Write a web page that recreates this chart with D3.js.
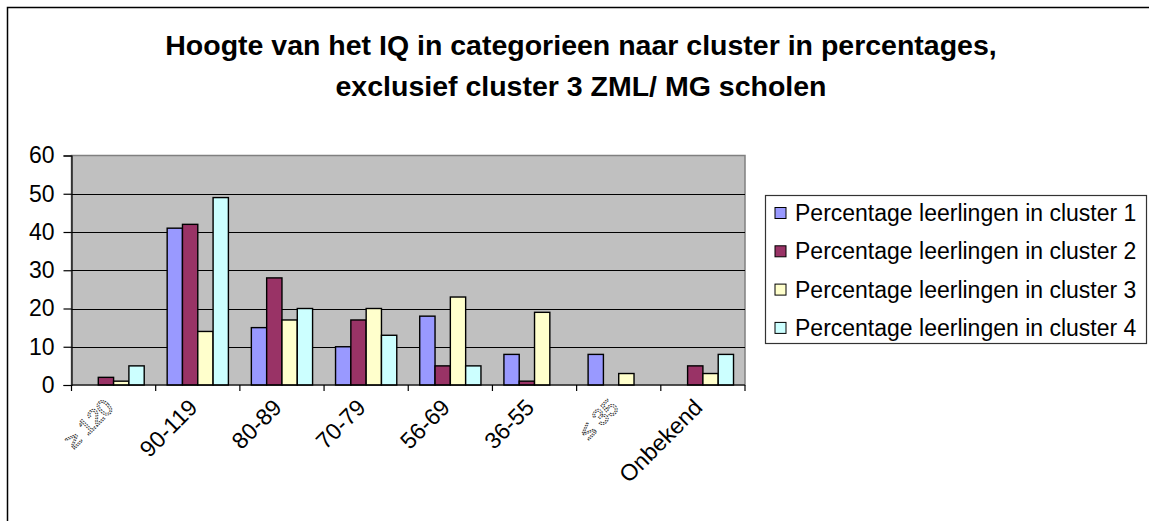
<!DOCTYPE html>
<html>
<head>
<meta charset="utf-8">
<script src="https://cdn.jsdelivr.net/npm/d3@7"></script>
<style>
  body { margin: 0; background: #fff; }
  svg { display: block; font-family: "Liberation Sans", Arial, sans-serif; }
</style>
</head>
<body>
<svg id="chart" width="1149" height="521"></svg>
<script>
// Data
var categories = ["\u2265 120", "90-119", "80-89", "70-79", "56-69", "36-55", "\u2264 35", "Onbekend"];
var seriesNames = [
  "Percentage leerlingen in cluster 1",
  "Percentage leerlingen in cluster 2",
  "Percentage leerlingen in cluster 3",
  "Percentage leerlingen in cluster 4"
];
var cluster1 = [0, 41, 15, 10, 18, 8, 8, 0];
var cluster2 = [2, 42, 28, 17, 5, 1, 0, 5];
var cluster3 = [1, 14, 17, 20, 23, 19, 3, 3];
var cluster4 = [5, 49, 20, 13, 5, 0, 0, 8];
var yTicks = [0, 10, 20, 30, 40, 50, 60];
var colors = ["#9999ff", "#993366", "#ffffcc", "#ccffff"];
var titleLines = [
  "Hoogte van het IQ in categorieen naar cluster in percentages,",
  "exclusief cluster 3 ZML/ MG scholen"
];

var seriesValues = [cluster1, cluster2, cluster3, cluster4];

// Dimensions
var plotLeft = 71.5;
var plotRight = 745;
var plotTop = 155.5;
var plotBottom = 385;

var svg = d3.select("#chart");

// outer frame (cut off at right / bottom like the original)
svg.append("rect")
  .attr("x", 7.5).attr("y", 7.5)
  .attr("width", 1200).attr("height", 600)
  .attr("fill", "none")
  .attr("stroke", "#000")
  .attr("stroke-width", 1.5);

// title
svg.append("g")
  .selectAll("text")
  .data(titleLines)
  .enter().append("text")
  .attr("x", 581)
  .attr("y", function(d, i) { return 55 + i * 41; })
  .attr("text-anchor", "middle")
  .attr("font-size", 28.5)
  .attr("font-weight", "bold")
  .text(function(d) { return d; });

var x0 = d3.scaleBand().domain(categories).range([plotLeft, plotRight]);
var x1 = d3.scaleBand().domain(d3.range(seriesNames.length))
  .range([0, x0.bandwidth()])
  .paddingInner(0)
  .paddingOuter(0.75);
var y = d3.scaleLinear().domain([0, 60]).range([plotBottom, plotTop]);

// plot area
svg.append("rect")
  .attr("x", plotLeft).attr("y", plotTop)
  .attr("width", plotRight - plotLeft)
  .attr("height", plotBottom - plotTop)
  .attr("fill", "#c0c0c0")
  .attr("stroke", "#808080")
  .attr("stroke-width", 1.5);

// gridlines
svg.append("g")
  .selectAll("line")
  .data(yTicks.filter(function(d) { return d > 0 && d < 60; }))
  .enter().append("line")
  .attr("x1", plotLeft).attr("x2", plotRight)
  .attr("y1", function(d) { return Math.round(y(d)) + 0.5; })
  .attr("y2", function(d) { return Math.round(y(d)) + 0.5; })
  .attr("stroke", "#000")
  .attr("stroke-width", 1);

// bars
var groups = svg.append("g")
  .selectAll("g")
  .data(categories)
  .enter().append("g")
  .attr("transform", function(d) { return "translate(" + x0(d) + ",0)"; });

groups.selectAll("rect")
  .data(function(d, ci) {
    return seriesValues.map(function(vals, si) { return { s: si, v: vals[ci] }; });
  })
  .enter().append("rect")
  .filter(function(d) { return d.v > 0; })
  .attr("x", function(d) { return x1(d.s); })
  .attr("y", function(d) { return y(d.v); })
  .attr("width", x1.bandwidth())
  .attr("height", function(d) { return y(0) - y(d.v); })
  .attr("fill", function(d) { return colors[d.s]; })
  .attr("stroke", "#000")
  .attr("stroke-width", 1.4);

// y axis
var yAxis = d3.axisLeft(y).tickValues(yTicks).tickSize(8).tickPadding(9);
var yg = svg.append("g")
  .attr("transform", "translate(" + plotLeft + ",0)")
  .call(yAxis);
yg.selectAll("text").attr("font-size", 23).attr("fill", "#000").attr("font-family", null);
yg.selectAll("line, path").attr("stroke", "#000").attr("stroke-width", 1.2);

// x axis
var xTickPos = categories.map(function(d) { return x0(d); }).concat([plotRight]);
var xg = svg.append("g");
xg.append("line")
  .attr("x1", plotLeft).attr("x2", plotRight)
  .attr("y1", plotBottom).attr("y2", plotBottom)
  .attr("stroke", "#000").attr("stroke-width", 1.2);
xg.selectAll(".tick")
  .data(xTickPos)
  .enter().append("line")
  .attr("x1", function(d) { return d; }).attr("x2", function(d) { return d; })
  .attr("y1", plotBottom).attr("y2", plotBottom + 6)
  .attr("stroke", "#000").attr("stroke-width", 1.2);

xg.selectAll("text")
  .data(categories)
  .enter().append("text")
  .attr("transform", function(d) {
    return "translate(" + (x0(d) + x0.bandwidth() / 2 + 1) + "," + 409 + ") rotate(-45)";
  })
  .attr("text-anchor", "end")
  .attr("font-size", 23)
  .attr("fill", function(d, i) { return (i === 0 || i === 6) ? "#fff" : "#000"; })
  .attr("stroke", function(d, i) { return (i === 0 || i === 6) ? "#333" : "none"; })
  .attr("stroke-width", 1)
  .attr("stroke-dasharray", function(d, i) { return (i === 0 || i === 6) ? "1.5,1" : null; })
  .text(function(d) { return d; });

// legend
var legend = svg.append("g");
legend.append("rect")
  .attr("x", 765.5).attr("y", 195.5)
  .attr("width", 381).attr("height", 148)
  .attr("fill", "#fff")
  .attr("stroke", "#333")
  .attr("stroke-width", 1.2);

var items = legend.selectAll(".item")
  .data(seriesNames)
  .enter().append("g")
  .attr("transform", function(d, i) { return "translate(0," + (213 + i * 38.3) + ")"; });

items.append("rect")
  .attr("x", 775).attr("y", -5.5)
  .attr("width", 11).attr("height", 11)
  .attr("fill", function(d, i) { return colors[i]; })
  .attr("stroke", "#000")
  .attr("stroke-width", 1);

items.append("text")
  .attr("x", 795)
  .attr("y", 8)
  .attr("font-size", 23)
  .text(function(d) { return d; });
</script>
</body>
</html>
